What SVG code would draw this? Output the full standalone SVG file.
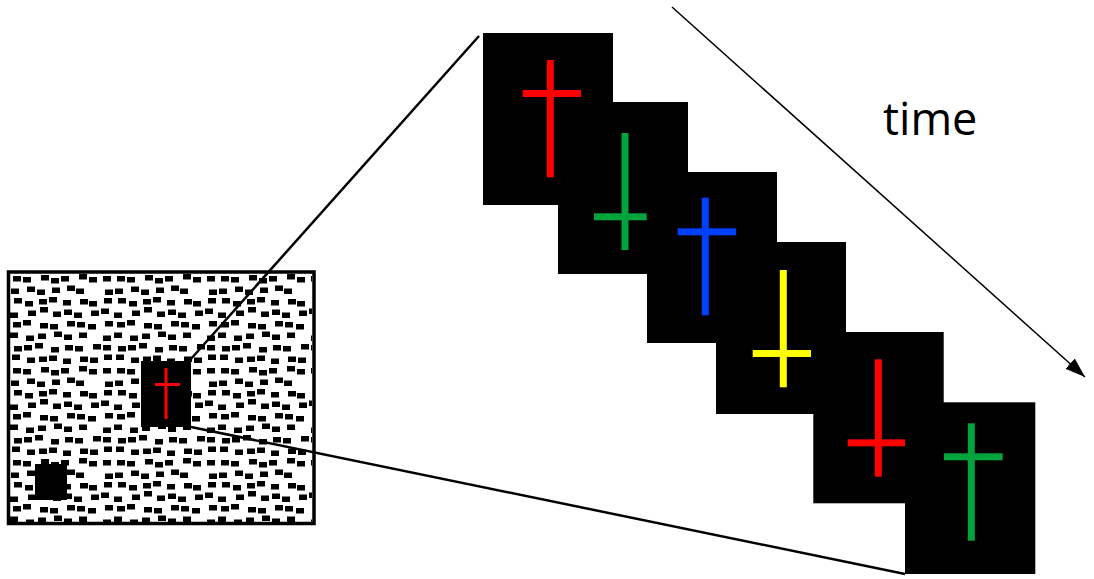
<svg xmlns="http://www.w3.org/2000/svg" width="1094" height="579" viewBox="0 0 1094 579">
  <style>
    .panel { fill: #000; }
    .red { fill: #ff0000; }
    .green { fill: #00a33c; }
    .blue { fill: #0040ff; }
    .yellow { fill: #ffff00; }
    .zoomline { stroke: #000; stroke-width: 2.5; fill: none; }
    .timeline { stroke: #000; stroke-width: 1.5; fill: none; }
    .label { font-family: "Open Sans", "Liberation Sans", sans-serif; font-size: 45px; fill: #000; }
  </style>
  <defs>
    <pattern id="tex" x="10" y="274" width="104" height="92" patternUnits="userSpaceOnUse">
      <path fill="#000" d="
        M3 2h8v5.5h-8z M13 3h8v5.5h-8z M31 1h8v5.5h-8z M41 4h8v5.5h-8z M51 2h8v5.5h-8z M69 0h8v5.5h-8z M79 3h8v5.5h-8z M93 2h8v5.5h-8z
        M1 14.5h8v5.5h-8z M17 12.5h8v5.5h-8z M27 15.5h8v5.5h-8z M42 13.5h8v5.5h-8z M57 11.5h8v5.5h-8z M66 14.5h8v5.5h-8z M95 15.5h8v5.5h-8z
        M4 24h8v5.5h-8z M15 27h8v5.5h-8z M29 25h8v5.5h-8z M39 23h8v5.5h-8z M53 26h8v5.5h-8z M70 25h8v5.5h-8z M79 27h8v5.5h-8z M94 24h8v5.5h-8z
        M0 38.5h8v5.5h-8z M18 36.5h8v5.5h-8z M43 37.5h8v5.5h-8z M54 35.5h8v5.5h-8z M64 38.5h8v5.5h-8z M81 36.5h8v5.5h-8z M91 34.5h8v5.5h-8z M30 33h8v5.5h-8z
        M3 48h8v5.5h-8z M13 46h8v5.5h-8z M30 49h8v5.5h-8z M40 50h8v5.5h-8z M57 47h8v5.5h-8z M67 48h8v5.5h-8z M78 50h8v5.5h-8z M95 47h8v5.5h-8z
        M0 58.5h8v5.5h-8z M16 61.5h8v5.5h-8z M28 59.5h8v5.5h-8z M44 57.5h8v5.5h-8z M54 60.5h8v5.5h-8z M69 58.5h8v5.5h-8z M93 61.5h8v5.5h-8z
        M4 72h8v5.5h-8z M14 71h8v5.5h-8z M25 69h8v5.5h-8z M41 73h8v5.5h-8z M55 71h8v5.5h-8z M65 72h8v5.5h-8z M83 70h8v5.5h-8z M93 71h8v5.5h-8z
        M2 80.5h8v5.5h-8z M17 83.5h8v5.5h-8z M29 82.5h8v5.5h-8z M39 81.5h8v5.5h-8z M53 84.5h8v5.5h-8z M70 82.5h8v5.5h-8z M80 83.5h8v5.5h-8z M94 80.5h8v5.5h-8z
      "/>
    </pattern>
    <marker id="arrow" markerUnits="userSpaceOnUse" markerWidth="22" markerHeight="16" refX="20" refY="7" orient="auto">
      <path d="M0,0 L20,7 L0,14 z" fill="#000"/>
    </marker>
  </defs>
  <rect width="1094" height="579" fill="#fff"/>

  <g id="display">
    <rect x="10" y="274" width="302" height="248" fill="url(#tex)"/>
    <rect x="8.5" y="272" width="305.5" height="251.5" fill="none" stroke="#000" stroke-width="3.5"/>
    <rect x="141" y="361" width="50" height="66" class="panel"/>
    <rect x="164.5" y="368" width="3" height="51" class="red"/>
    <rect x="155" y="383" width="25" height="3" class="red"/>
    <rect x="35" y="464" width="32" height="36" class="panel"/>
  </g>

  <g id="connectors">
    <line x1="190" y1="360" x2="479" y2="36" class="zoomline"/>
    <line x1="191" y1="427" x2="905" y2="574" class="zoomline"/>
    <line x1="672" y1="7" x2="1085" y2="377" class="timeline" marker-end="url(#arrow)"/>
  </g>

  <g id="frame1">
    <rect x="483" y="33" width="130" height="172" class="panel"/>
    <rect x="546.8" y="60" width="7" height="117.3" class="red"/>
    <rect x="522.7" y="90" width="58.3" height="7" class="red"/>
  </g>
  <g id="frame2">
    <rect x="558" y="102" width="130" height="172" class="panel"/>
    <rect x="621.5" y="133" width="7" height="117" class="green"/>
    <rect x="594" y="213.3" width="52.7" height="7" class="green"/>
  </g>
  <g id="frame3">
    <rect x="647" y="172" width="130" height="171" class="panel"/>
    <rect x="701.8" y="197.7" width="7" height="117.6" class="blue"/>
    <rect x="677.7" y="228.3" width="58.3" height="7" class="blue"/>
  </g>
  <g id="frame4">
    <rect x="716" y="242" width="130" height="172" class="panel"/>
    <rect x="779.8" y="270" width="7" height="117.3" class="yellow"/>
    <rect x="752.7" y="350" width="58.3" height="7" class="yellow"/>
  </g>
  <g id="frame5">
    <rect x="813.3" y="332" width="130.4" height="171.3" class="panel"/>
    <rect x="874.8" y="359.3" width="7" height="117.4" class="red"/>
    <rect x="847.7" y="439.3" width="58.3" height="7" class="red"/>
  </g>
  <g id="frame6">
    <rect x="905" y="402.3" width="130.3" height="171.7" class="panel"/>
    <rect x="967.8" y="423.3" width="7" height="117.4" class="green"/>
    <rect x="944" y="453.3" width="58.7" height="7" class="green"/>
  </g>

  <g id="time-label">
    <text x="883" y="135" class="label">time</text>
  </g>
</svg>
